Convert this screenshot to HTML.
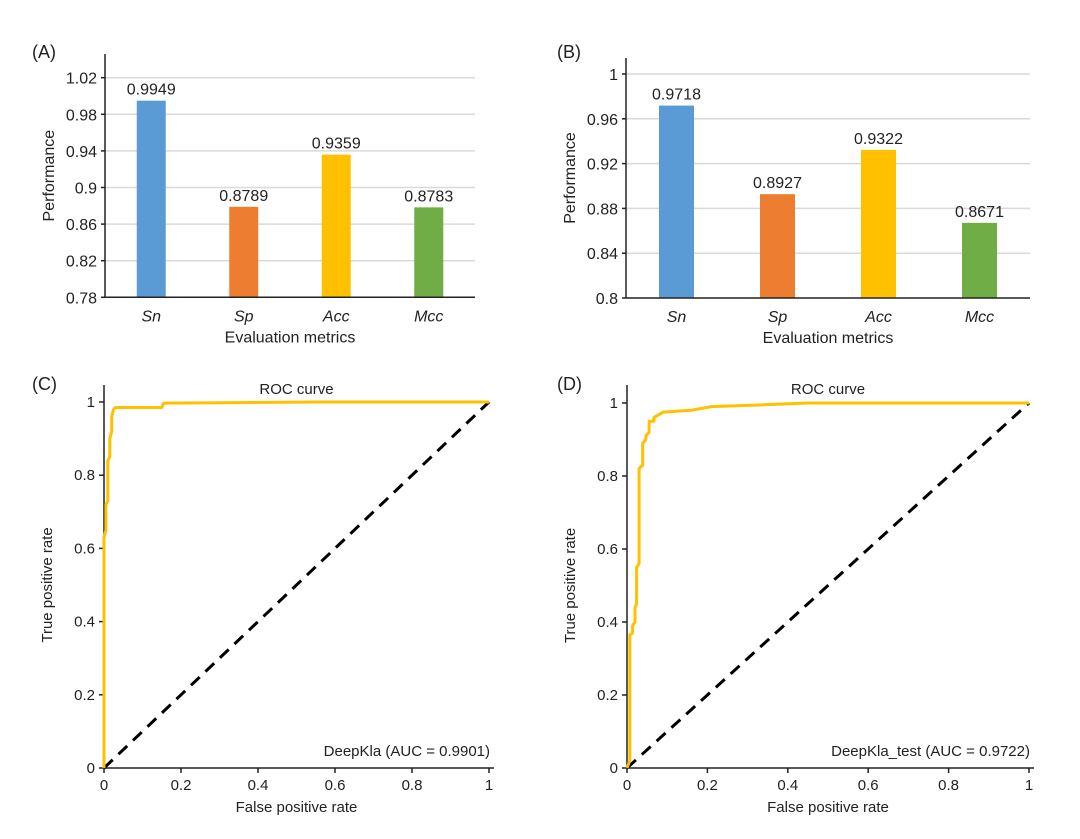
<!DOCTYPE html>
<html><head><meta charset="utf-8"><style>
body{margin:0;background:#fff}
svg{display:block;font-family:"Liberation Sans",Arial,sans-serif}
</style></head><body>
<svg id="fig" width="1080" height="839" viewBox="0 0 1080 839"></svg>
<script>
// Panel A data
const catsA=["Sn","Sp","Acc","Mcc"];
const valsA=[0.9949,0.8789,0.9359,0.8783];
const labelsA=["0.9949","0.8789","0.9359","0.8783"];
const ticksA=[0.78,0.82,0.86,0.9,0.94,0.98,1.02];
// Panel B data
const catsB=["Sn","Sp","Acc","Mcc"];
const valsB=[0.9718,0.8927,0.9322,0.8671];
const labelsB=["0.9718","0.8927","0.9322","0.8671"];
const ticksB=[0.8,0.84,0.88,0.92,0.96,1];
const colors=["#5b9bd5","#ed7d31","#ffc000","#70ad47"];
// Panel C ROC
const fprC=[0,0,0.005,0.005,0.01,0.01,0.015,0.015,0.02,0.02,0.025,0.03,0.15,0.155,0.55,1];
const tprC=[0,0.63,0.65,0.72,0.73,0.84,0.85,0.9,0.92,0.96,0.98,0.985,0.985,0.997,1,1];
// Panel D ROC
const fprD=[0,0.007,0.007,0.014,0.014,0.02,0.02,0.024,0.024,0.03,0.03,0.039,0.039,0.047,0.047,0.055,0.055,0.067,0.067,0.09,0.16,0.21,0.34,0.45,1];
const tprD=[0,0.02,0.364,0.37,0.39,0.40,0.44,0.45,0.55,0.56,0.82,0.83,0.89,0.9,0.91,0.92,0.95,0.95,0.96,0.975,0.98,0.99,0.995,1,1];
const rocTicks=[0,0.2,0.4,0.6,0.8,1];
const rocTickLabels=["0","0.2","0.4","0.6","0.8","1"];

const NS="http://www.w3.org/2000/svg";
const svg=document.getElementById('fig');
function mk(tag,attrs,parent,text){const e=document.createElementNS(NS,tag);for(const k in attrs)e.setAttribute(k,attrs[k]);if(text!==undefined)e.textContent=text;(parent||svg).appendChild(e);return e;}

function barPanel(o){
  const g=mk('g',{});
  
  
  const y=v=>o.y0-(v-o.min)/(o.max-o.min)*(o.y0-o.y1);
  const band=(o.xr-o.xl)/o.cats.length;
  const x=i=>o.xl+band*(i+0.5);
  o.ticks.forEach(t=>{
    if(t>o.min){const l=mk('line',{x1:o.xl,x2:o.xr,y1:y(t),y2:y(t),stroke:'#d9d9d9','stroke-width':1.5},g);
    }
    const tl=mk('text',{x:o.xl-8,y:y(t)+6,'text-anchor':'end','font-size':16,fill:'#222'},g,String(t));
    
    mk('line',{x1:o.xl-4,x2:o.xl,y1:y(t),y2:y(t),stroke:'#222','stroke-width':1.5},g);
  });
  o.vals.forEach((v,i)=>{
    const r=mk('rect',{x:x(i)-o.bw/2,y:y(v),width:o.bw,height:o.y0-y(v),fill:colors[i]},g);
    
    const t=mk('text',{x:x(i),y:y(v)-6,'text-anchor':'middle','font-size':16,fill:'#222'},g,o.labels[i]);
    
    const c=mk('text',{x:x(i),y:o.y0+24,'text-anchor':'middle','font-size':16,'font-style':'italic',fill:'#222'},g,o.cats[i]);
    
  });
  mk('line',{x1:o.xl,x2:o.xl,y1:o.top,y2:o.y0,stroke:'#222','stroke-width':1.5},g);
  mk('line',{x1:o.xl,x2:o.xr,y1:o.y0,y2:o.y0,stroke:'#222','stroke-width':1.5},g);
  const xt=mk('text',{x:(o.xl+o.xr)/2,y:o.y0+45,'text-anchor':'middle','font-size':16,fill:'#222'},g,'Evaluation metrics');
  
  const yt=mk('text',{x:0,y:0,transform:`translate(${o.xl-51},${(o.y0+o.top)/2}) rotate(-90)`,'text-anchor':'middle','font-size':16,fill:'#222'},g,'Performance');
  
  const pl=mk('text',{x:o.px,y:o.py,'font-size':18,fill:'#222'},g,o.plabel);
  
}
barPanel({name:'panel-a-bar-chart',cats:catsA,vals:valsA,labels:labelsA,ticks:ticksA,min:0.78,max:1.02,xl:105,xr:475,y0:297.3,y1:77.7,top:54,bw:29,px:32,py:58,plabel:'(A)'});
barPanel({name:'panel-b-bar-chart',cats:catsB,vals:valsB,labels:labelsB,ticks:ticksB,min:0.8,max:1,xl:626,xr:1030,y0:298,y1:74,top:58,bw:35,px:557,py:58,plabel:'(B)'});

function rocPanel(o){
  const g=mk('g',{});
  
  
  const X=v=>o.x0+v*(o.x1-o.x0), Y=v=>o.y0-v*(o.y0-o.y1);
  rocTicks.forEach((t,i)=>{
    mk('line',{x1:X(t),x2:X(t),y1:o.y0,y2:o.y0+5,stroke:'#222','stroke-width':1.5},g);
    mk('line',{x1:o.x0-5,x2:o.x0,y1:Y(t),y2:Y(t),stroke:'#222','stroke-width':1.5},g);
    const a=mk('text',{x:X(t),y:o.y0+22,'text-anchor':'middle','font-size':15,fill:'#222'},g,rocTickLabels[i]);
    
    const b=mk('text',{x:o.x0-9,y:Y(t)+5,'text-anchor':'end','font-size':15,fill:'#222'},g,rocTickLabels[i]);
    
  });
  mk('line',{x1:o.x0,x2:o.x0,y1:o.top,y2:o.y0,stroke:'#222','stroke-width':1.5},g);
  mk('line',{x1:o.x0,x2:o.x1+5,y1:o.y0,y2:o.y0,stroke:'#222','stroke-width':1.5},g);
  const d=mk('line',{x1:X(0),y1:Y(0),x2:X(1),y2:Y(1),stroke:'#000','stroke-width':3,'stroke-dasharray':'12,8'},g);
  
  const pts=o.fpr.map((f,i)=>X(f).toFixed(1)+','+Y(o.tpr[i]).toFixed(1)).join(' ');
  const p=mk('polyline',{points:pts,fill:'none',stroke:'#ffc000','stroke-width':3,'stroke-linejoin':'round'},g);
  
  const t=mk('text',{x:(o.x0+o.x1)/2,y:o.top+9,'text-anchor':'middle','font-size':15,fill:'#222'},g,'ROC curve');
  
  const l=mk('text',{x:o.x1+1,y:o.y0-12,'text-anchor':'end','font-size':15,fill:'#222'},g,o.legend);
  
  const xt=mk('text',{x:(o.x0+o.x1)/2,y:o.y0+44,'text-anchor':'middle','font-size':15,fill:'#222'},g,'False positive rate');
  
  const yt=mk('text',{x:0,y:0,transform:`translate(${o.x0-52},${(o.y0+o.y1)/2}) rotate(-90)`,'text-anchor':'middle','font-size':15,fill:'#222'},g,'True positive rate');
  
  const pl=mk('text',{x:o.px,y:o.py,'font-size':18,fill:'#222'},g,o.plabel);
  
}
rocPanel({name:'panel-c-roc',fpr:fprC,tpr:tprC,x0:104,x1:489,y0:768,y1:402,top:385,legend:'DeepKla (AUC = 0.9901)',px:32,py:390,plabel:'(C)'});
rocPanel({name:'panel-d-roc',fpr:fprD,tpr:tprD,x0:627,x1:1029,y0:768,y1:403,top:385,legend:'DeepKla_test (AUC = 0.9722)',px:557,py:390,plabel:'(D)'});
</script>
</body></html>
